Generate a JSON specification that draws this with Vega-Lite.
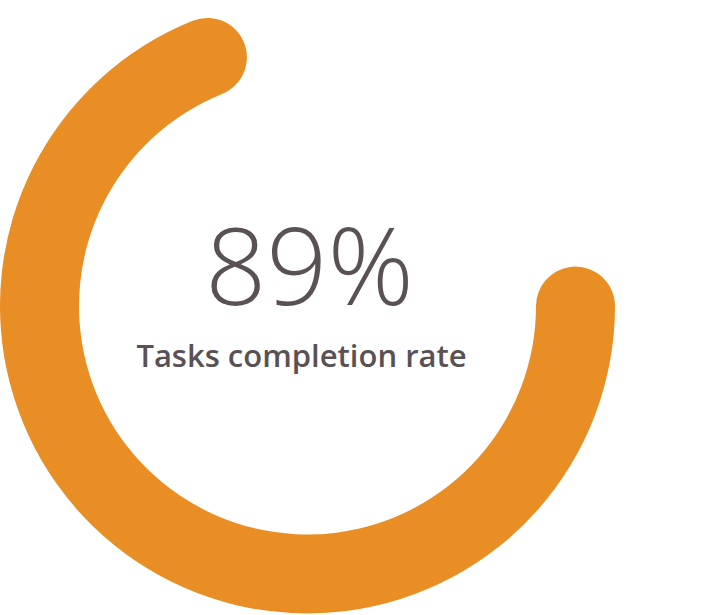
{
  "$schema": "https://vega.github.io/schema/vega-lite/v6.json",
  "width": 615,
  "height": 612,
  "padding": {"left": 0, "top": 0, "right": 103, "bottom": 3},
  "autosize": {"type": "none"},
  "background": "white",
  "view": {"stroke": null},
  "data": {"values": [{"start": 0, "value": 89, "label": "89%", "title": "Tasks completion rate"}]},
  "layer": [
    {
      "mark": {"type": "arc", "radius": 307.5, "radius2": 228.5, "cornerRadius": 39.5, "color": "#E88E24"},
      "encoding": {
        "theta": {"field": "start", "type": "quantitative", "stack": null, "scale": {"domain": [0, 100], "range": [1.4233, 6.62]}},
        "theta2": {"field": "value"}
      }
    },
    {
      "mark": {"type": "text", "font": "Open Sans", "fontWeight": 300, "fontSize": 107, "color": "#595154", "align": "center", "baseline": "alphabetic", "dx": 2, "dy": -1},
      "encoding": {"text": {"field": "label"}}
    },
    {
      "mark": {"type": "text", "font": "Open Sans", "fontWeight": 600, "fontSize": 31, "color": "#595154", "align": "center", "baseline": "alphabetic", "dx": -6, "dy": 61},
      "encoding": {"text": {"field": "title"}}
    }
  ]
}
